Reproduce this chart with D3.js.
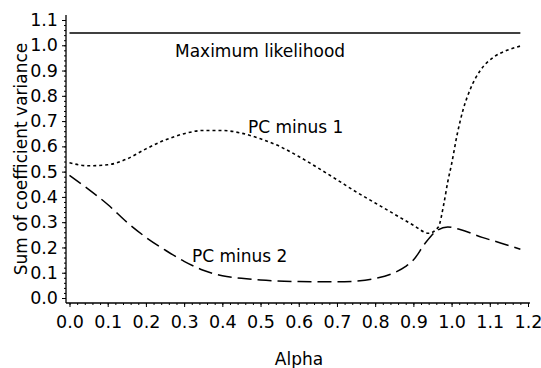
<!DOCTYPE html>
<html>
<head>
<meta charset="utf-8">
<script src="https://cdn.jsdelivr.net/npm/d3@7"></script>
<style>
  html, body { margin: 0; padding: 0; background: #fff; }
  svg { display: block; }
  text { font-family: "DejaVu Sans", sans-serif; fill: #000; }
</style>
</head>
<body>
<svg id="chart" width="541" height="368"></svg>
<script>
// ---- data ----
const alphaML = [0.0, 1.18];
const maxLikelihood = [1.049, 1.049];

const alphaPC1 = [0.0, 0.05, 0.1, 0.15, 0.2, 0.25, 0.3, 0.35, 0.4, 0.45, 0.5, 0.55, 0.6, 0.65, 0.7, 0.75, 0.8, 0.85, 0.9, 0.94, 0.965, 0.98, 0.99, 1.0, 1.015, 1.03, 1.05, 1.075, 1.11, 1.145, 1.18];
const pcMinus1 = [0.535, 0.523, 0.527, 0.55, 0.59, 0.625, 0.65, 0.663, 0.663, 0.652, 0.63, 0.6, 0.56, 0.515, 0.468, 0.42, 0.376, 0.332, 0.288, 0.256, 0.28, 0.375, 0.46, 0.53, 0.65, 0.744, 0.83, 0.9, 0.953, 0.98, 0.997];

const alphaPC2 = [0.0, 0.05, 0.1, 0.15, 0.2, 0.25, 0.3, 0.35, 0.4, 0.45, 0.5, 0.6, 0.7, 0.75, 0.8, 0.85, 0.88, 0.9, 0.93, 0.96, 0.99, 1.02, 1.08, 1.13, 1.18];
const pcMinus2 = [0.485, 0.43, 0.37, 0.3, 0.24, 0.19, 0.145, 0.11, 0.088, 0.078, 0.071, 0.065, 0.064, 0.067, 0.077, 0.1, 0.125, 0.15, 0.215, 0.265, 0.281, 0.272, 0.24, 0.217, 0.193];

const xTicks = [0.0, 0.1, 0.2, 0.3, 0.4, 0.5, 0.6, 0.7, 0.8, 0.9, 1.0, 1.1, 1.2];
const yTicks = [0.0, 0.1, 0.2, 0.3, 0.4, 0.5, 0.6, 0.7, 0.8, 0.9, 1.0, 1.1];
const xLabel = "Alpha";
const yLabel = "Sum of coefficient variance";
const seriesLabels = ["Maximum likelihood", "PC minus 1", "PC minus 2"];

// ---- layout ----
const svg = d3.select("#chart");
const x = d3.scaleLinear().domain([0, 1.2]).range([69.5, 528]);
const y = d3.scaleLinear().domain([0, 1.1]).range([298, 20]);
const axisY0 = 303;   // x-axis line position
const axisX0 = 66;    // y-axis line position
const fontSize = 17.5;

// axis lines
svg.append("line").attr("x1", axisX0).attr("x2", axisX0)
  .attr("y1", axisY0).attr("y2", y(1.12))
  .attr("stroke", "#000").attr("stroke-width", 1.3);
svg.append("line").attr("x1", axisX0).attr("x2", x(1.205))
  .attr("y1", axisY0).attr("y2", axisY0)
  .attr("stroke", "#000").attr("stroke-width", 1.3);

// x axis major
const gx = svg.append("g").attr("transform", `translate(0,${axisY0})`)
  .call(d3.axisBottom(x).tickValues(xTicks).tickFormat(d3.format(".1f")).tickSize(4).tickPadding(9));
gx.select(".domain").remove();
gx.selectAll("text").style("font-size", fontSize + "px").attr("font-family", "DejaVu Sans");
// x axis minor
const gxm = svg.append("g").attr("transform", `translate(0,${axisY0})`)
  .call(d3.axisBottom(x).tickValues(d3.range(0, 60).map(i => i * 0.02).filter(v => v <= 1.2001)).tickFormat("").tickSize(2));
gxm.select(".domain").remove();

// y axis major
const gy = svg.append("g").attr("transform", `translate(${axisX0},0)`)
  .call(d3.axisLeft(y).tickValues(yTicks).tickFormat(d3.format(".1f")).tickSize(4).tickPadding(4));
gy.select(".domain").remove();
gy.selectAll("text").style("font-size", fontSize + "px").attr("font-family", "DejaVu Sans");
// y axis minor
const gym = svg.append("g").attr("transform", `translate(${axisX0},0)`)
  .call(d3.axisLeft(y).tickValues(d3.range(0, 56).map(i => i * 0.02)).tickFormat("").tickSize(2));
gym.select(".domain").remove();

svg.selectAll(".tick line").attr("stroke", "#000").attr("stroke-width", 1);

// axis titles
svg.append("text").attr("x", 299).attr("y", 365)
  .attr("text-anchor", "middle").style("font-size", "17px").text(xLabel);
svg.append("text").attr("transform", "translate(27,159) rotate(-90)")
  .attr("text-anchor", "middle").style("font-size", "17px").text(yLabel);

// lines
const line = d3.line().x(d => x(d[0])).y(d => y(d[1])).curve(d3.curveMonotoneX);

svg.append("path").datum(d3.zip(alphaML, maxLikelihood))
  .attr("d", d3.line().x(d => x(d[0])).y(d => y(d[1])))
  .attr("fill", "none").attr("stroke", "#000").attr("stroke-width", 1.5);

svg.append("path").datum(d3.zip(alphaPC1, pcMinus1))
  .attr("d", line)
  .attr("fill", "none").attr("stroke", "#000").attr("stroke-width", 1.6)
  .attr("stroke-dasharray", "3,3");

svg.append("path").datum(d3.zip(alphaPC2, pcMinus2))
  .attr("d", line)
  .attr("fill", "none").attr("stroke", "#000").attr("stroke-width", 1.5)
  .attr("stroke-dasharray", "14,6");

// series labels
svg.append("text").attr("x", 175).attr("y", 57).style("font-size", "17px").text(seriesLabels[0]);
svg.append("text").attr("x", 248).attr("y", 133).style("font-size", "17px").text(seriesLabels[1]);
svg.append("text").attr("x", 192).attr("y", 262).style("font-size", "17px").text(seriesLabels[2]);
</script>
</body>
</html>
